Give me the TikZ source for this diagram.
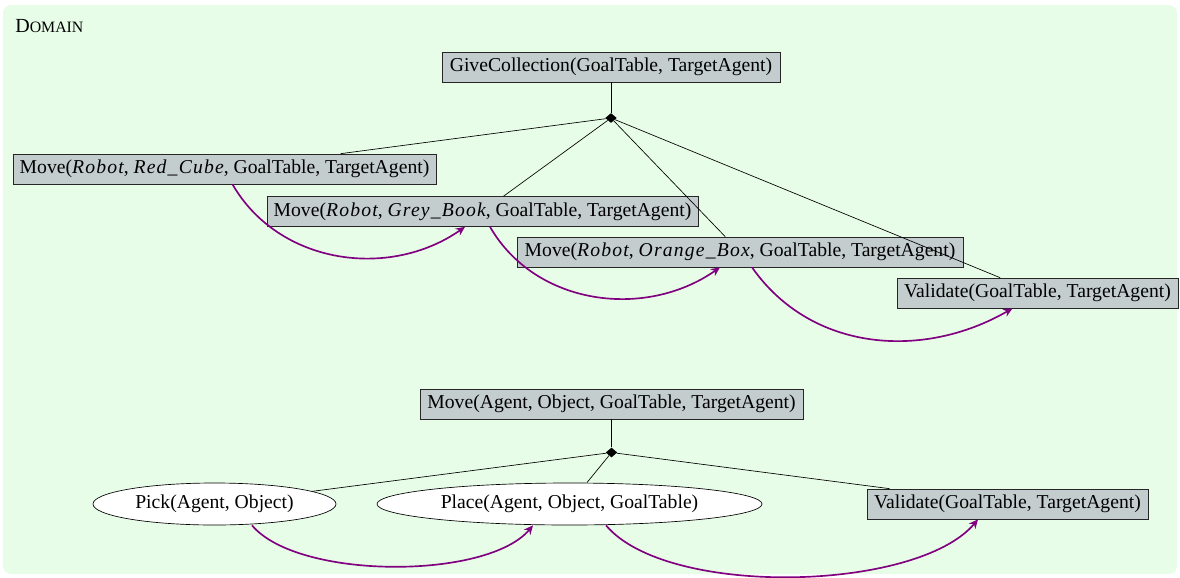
\documentclass[tikz,border=0pt]{standalone}
\usepackage{fontspec}
\setmainfont{Liberation Serif}
\usetikzlibrary{shapes.geometric,arrows.meta}
\definecolor{bgc}{RGB}{232,253,232}
\definecolor{boxc}{RGB}{196,205,205}
\definecolor{seqc}{RGB}{128,0,128}
\newcommand{\vname}[1]{\textit{\addfontfeatures{LetterSpace=6}#1}}
\begin{document}
\begin{tikzpicture}[x=0.6pt,y=-0.6pt,
  every node/.style={font=\fontsize{11.8}{14}\selectfont},
  task/.style={draw=black!85, fill=boxc, minimum height=18pt, inner sep=2pt},
  prim/.style={draw, ellipse, fill=white, minimum height=25.2pt, inner sep=1pt},
  andnode/.style={diamond, fill=black, inner sep=0pt, minimum width=7pt, minimum height=6pt},
  seq/.style={draw=seqc, line width=1pt, -{Stealth[length=5.5pt,width=5pt]}},
  link/.style={draw=black, line width=0.4pt}]
\useasboundingbox (0,0) rectangle (1180,577);
\fill[bgc, rounded corners=5pt] (3,5) rectangle (1177,574);
\node[anchor=base west, inner sep=0pt, font=\fontsize{12}{14}\selectfont] (dom) at (15,32) {D{\fontsize{9.5}{11}\selectfont OMAIN}};

% top decomposition
\node[task, minimum width=202.8pt] (give) at (611,67) {GiveCollection(GoalTable, TargetAgent)};
\node[andnode] (d1) at (611,118) {};
\node[task, minimum width=253.8pt] (red) at (224.5,169) {Move(\vname{Robot}, \vname{Red\_Cube}, GoalTable, TargetAgent)};
\node[task, minimum width=258.6pt] (grey) at (482.5,211.5) {Move(\vname{Robot}, \vname{Grey\_Book}, GoalTable, TargetAgent)};
\node[task, minimum width=267.6pt] (orange) at (740,252) {Move(\vname{Robot}, \vname{Orange\_Box}, GoalTable, TargetAgent)};
\node[task, minimum width=168.6pt] (valt) at (1037.5,293) {Validate(GoalTable, TargetAgent)};

\draw[link] (give) -- (d1);
\draw[link] (d1) -- (red);
\draw[link] (d1) -- (grey);
\draw[link] (d1) -- (orange);
\draw[link] (d1) -- (valt);

\draw[seq] ([xshift=4.8pt]red.south) to[out=-60,in=-145] ([xshift=-10.5pt]grey.south);
\draw[seq] ([xshift=4.5pt]grey.south) to[out=-60,in=-145] ([xshift=-12pt]orange.south);
\draw[seq] ([xshift=7.2pt]orange.south) to[out=-55,in=-150] ([xshift=-15pt]valt.south);

% bottom decomposition
\node[task, minimum width=229.8pt] (movea) at (611.5,404) {Move(Agent, Object, GoalTable, TargetAgent)};
\node[andnode] (d2) at (611.5,452.5) {};
\node[prim, minimum width=145.8pt] (pick) at (214.5,504) {Pick(Agent, Object)};
\node[prim, minimum width=231pt] (place) at (569.5,504) {Place(Agent, Object, GoalTable)};
\node[task, minimum width=168.6pt] (valb) at (1007.5,504) {Validate(GoalTable, TargetAgent)};

\draw[link] (movea) -- (d2);
\draw[link] (d2) -- (pick);
\draw[link] (d2) -- (place);
\draw[link] (d2) -- (valb);

\draw[seq] ([xshift=22.5pt]pick.south) to[out=-50,in=-130,looseness=0.65] ([xshift=-21.9pt]place.south);
\draw[seq] ([xshift=21.9pt]place.south) to[out=-50,in=-130,looseness=0.65] ([xshift=-17.7pt]valb.south);
\end{tikzpicture}
\end{document}
